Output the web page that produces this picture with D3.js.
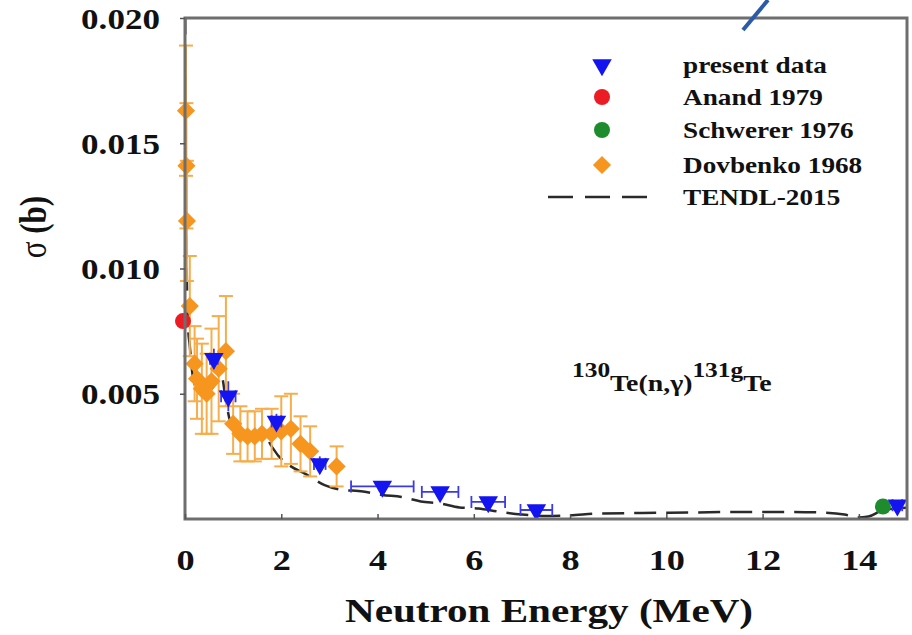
<!DOCTYPE html>
<html>
<head>
<meta charset="utf-8">
<script src="https://cdn.jsdelivr.net/npm/d3@7"></script>
<style>
  body { margin: 0; background: #fff; }
  text { font-family: "Liberation Serif", "Times New Roman", serif; font-weight: bold; fill: #111; }
</style>
</head>
<body>
<div id="svg-container"></div>
<script>
// present data
const presentE = [0.6, 0.9, 1.9, 2.8, 4.1, 5.3, 6.3, 7.3, 14.8];
const presentS = [0.0064, 0.0049, 0.0039, 0.0022, 0.0013, 0.00108, 0.00068, 0.00036, 0.00055];
const presentDE = [0.08, 0.15, 0.1, 0.12, 0.65, 0.38, 0.35, 0.33, 0.1];
const presentDS = [0.0004, 0.0006, 0.0003, 0.0003, 0.0002, 0.0002, 0.0002, 0.0002, 0.0002];

// Anand 1979, Schwerer 1976
const anandE = [0.0], anandS = [0.0079];
const schwererE = [14.5], schwererS = [0.0005];

// Dovbenko 1968
const dovE = [0.02, 0.03, 0.04, 0.1, 0.2, 0.25, 0.35, 0.45, 0.55, 0.7, 0.85, 1.0, 1.15, 1.3, 1.45, 1.6, 1.8, 2.0, 2.2, 2.4, 2.6, 3.15];
const dovS = [0.0163, 0.0141, 0.0119, 0.0085, 0.0062, 0.0056, 0.0052, 0.0050, 0.0055, 0.0060, 0.0067, 0.0038, 0.0034, 0.0033, 0.0033, 0.0034, 0.0034, 0.0035, 0.0036, 0.0030, 0.0027, 0.0021];
const dovDS = [0.0026, 0.0025, 0.0024, 0.0020, 0.0015, 0.0016, 0.0018, 0.0016, 0.0021, 0.0021, 0.0022, 0.0012, 0.0011, 0.0010, 0.0010, 0.0010, 0.0010, 0.0014, 0.0014, 0.0011, 0.0010, 0.0008];

// TENDL-2015
const tendlE = [0.003, 0.01, 0.02, 0.04, 0.06, 0.1, 0.17, 0.25, 0.4, 0.55, 0.68, 0.76, 0.85, 0.95, 1.05, 1.2, 1.35, 1.5, 1.62, 1.8, 1.95, 2.2, 2.5, 2.9, 3.2, 3.7, 4.1, 4.5, 4.9, 5.3, 5.7, 6.1, 6.5, 7.0, 7.5, 8.0, 8.6, 9.5, 10.5, 11.5, 12.5, 13.2, 13.7, 13.95, 14.2, 14.5, 15.0];
const tendlS = [0.0215, 0.0165, 0.0125, 0.0095, 0.0078, 0.0069, 0.0056, 0.0052, 0.0050, 0.0052, 0.0055, 0.0057, 0.0047, 0.0038, 0.0034, 0.0032, 0.0033, 0.0034, 0.0034, 0.0029, 0.0025, 0.0021, 0.0018, 0.00135, 0.00118, 0.0011, 0.00096, 0.00088, 0.0007, 0.00062, 0.00046, 0.00042, 0.0003, 0.00018, 0.00012, 0.00015, 0.00022, 0.00024, 0.00026, 0.00028, 0.00028, 0.00026, 0.00018, 0.00006, 0.0001, 0.00035, 0.00045];

const xTicks = [0, 2, 4, 6, 8, 10, 12, 14];
const yTicks = [0.005, 0.010, 0.015, 0.020];
const legendLabels = ["present data", "Anand 1979", "Schwerer 1976", "Dovbenko 1968", "TENDL-2015"];

const W = 912, H = 635;
const pl = 185, pr = 907, pt = 18, pb = 519;
const sx = 1.21; // the picture is a bit wide

const svg = d3.select("#svg-container")
    .append("svg")
    .attr("width", W)
    .attr("height", H);

const x = d3.scaleLinear().domain([0, 15]).range([pl, pr]);
const y = d3.scaleLinear().domain([0, 0.020]).range([pb, pt]);

svg.append("clipPath").attr("id", "clip")
    .append("rect")
    .attr("x", pl - 12).attr("y", pt).attr("width", pr - pl + 12).attr("height", pb - pt);

const plot = svg.append("g").attr("clip-path", "url(#clip)");

// TENDL curve
const line = d3.line().x(d => x(d[0])).y(d => y(d[1])).curve(d3.curveMonotoneX);
plot.append("path")
    .attr("d", line(d3.zip(tendlE, tendlS)))
    .attr("fill", "none")
    .attr("stroke", "#2a2a2a")
    .attr("stroke-width", 2.5)
    .attr("stroke-dasharray", "22,10");

// Dovbenko error bars
const orangeBar = "#f6ad4c";
dovE.forEach((e, i) => {
    const cx = x(e), y1 = y(dovS[i] + dovDS[i]), y2 = y(dovS[i] - dovDS[i]);
    plot.append("line").attr("x1", cx).attr("x2", cx).attr("y1", y1).attr("y2", y2)
        .attr("stroke", orangeBar).attr("stroke-width", 2);
    [y1, y2].forEach(yy => plot.append("line")
        .attr("x1", cx - 7).attr("x2", cx + 7).attr("y1", yy).attr("y2", yy)
        .attr("stroke", orangeBar).attr("stroke-width", 2));
});

const diamond = d3.symbol().type(d3.symbolSquare).size(165);
dovE.forEach((e, i) => {
    plot.append("path").attr("d", diamond())
        .attr("transform", `translate(${x(e)},${y(dovS[i])}) rotate(45)`)
        .attr("fill", "#f7961e");
});

// Anand, Schwerer
anandE.forEach((e, i) => plot.append("circle")
    .attr("cx", x(e) - 2).attr("cy", y(anandS[i])).attr("r", 8).attr("fill", "#ec1c24"));
schwererE.forEach((e, i) => plot.append("circle")
    .attr("cx", x(e)).attr("cy", y(schwererS[i])).attr("r", 8).attr("fill", "#1e8c2c"));

// present data
const blueBar = "#3a3ae6";
presentE.forEach((e, i) => {
    const cx = x(e), cy = y(presentS[i]);
    const xa = x(e - presentDE[i]), xb = x(e + presentDE[i]);
    const ya = y(presentS[i] + presentDS[i]), yb = y(presentS[i] - presentDS[i]);
    plot.append("line").attr("x1", xa).attr("x2", xb).attr("y1", cy).attr("y2", cy)
        .attr("stroke", blueBar).attr("stroke-width", 1.8);
    [xa, xb].forEach(xx => plot.append("line")
        .attr("x1", xx).attr("x2", xx).attr("y1", cy - 6).attr("y2", cy + 6)
        .attr("stroke", blueBar).attr("stroke-width", 1.8));
    plot.append("line").attr("x1", cx).attr("x2", cx).attr("y1", ya).attr("y2", yb)
        .attr("stroke", blueBar).attr("stroke-width", 1.8);
});
const tri = d3.symbol().type(d3.symbolTriangle).size(165);
presentE.forEach((e, i) => {
    plot.append("path").attr("d", tri())
        .attr("transform", `translate(${x(e)},${y(presentS[i])}) rotate(180)`)
        .attr("fill", "#1414f0");
});

// frame
svg.append("rect")
    .attr("x", pl).attr("y", pt)
    .attr("width", pr - pl).attr("height", pb - pt)
    .attr("fill", "none").attr("stroke", "#6e6e6e").attr("stroke-width", 3);

// axes
const yAxis = svg.append("g")
    .attr("transform", `translate(${pl},0)`)
    .call(d3.axisLeft(y).tickValues(yTicks).tickFormat(d3.format(".3f")).tickSize(5).tickPadding(0));
yAxis.select(".domain").remove();
yAxis.selectAll("line").attr("stroke", "#555").attr("stroke-width", 1.5);
yAxis.selectAll("text")
    .attr("x", null).attr("dy", null)
    .attr("transform", `translate(-25,10) scale(${sx},1)`)
    .style("font-size", "29px").style("font-family", "Liberation Serif").style("font-weight", "bold").attr("fill", "#111");

const xAxis = svg.append("g")
    .attr("transform", `translate(0,${pb})`)
    .call(d3.axisBottom(x).tickValues(xTicks).tickSize(-5).tickPadding(0));
xAxis.select(".domain").remove();
xAxis.selectAll("line").attr("stroke", "#555").attr("stroke-width", 1.5);
xAxis.selectAll("text")
    .attr("y", null).attr("dy", null)
    .attr("transform", `translate(0,51) scale(${sx},1)`)
    .style("font-size", "30px").style("font-family", "Liberation Serif").style("font-weight", "bold").attr("fill", "#111");

// axis titles
svg.append("text")
    .attr("transform", `translate(549,622) scale(${sx},1)`)
    .attr("text-anchor", "middle")
    .style("font-size", "34px")
    .text("Neutron Energy (MeV)");

const yt = svg.append("text")
    .attr("transform", `translate(46,227) rotate(-90) scale(1,${sx})`)
    .attr("text-anchor", "middle")
    .style("font-size", "31px");
yt.append("tspan").style("font-weight", "normal").text("σ");
yt.append("tspan").text(" (b)");

// legend
const legX = 602, legY = [65, 97, 130, 165, 197];
svg.append("path").attr("d", tri()).attr("transform", `translate(${legX},${legY[0]}) rotate(180)`).attr("fill", "#1414f0");
svg.append("circle").attr("cx", legX).attr("cy", legY[1]).attr("r", 8).attr("fill", "#ec1c24");
svg.append("circle").attr("cx", legX).attr("cy", legY[2]).attr("r", 8).attr("fill", "#1e8c2c");
svg.append("path").attr("d", diamond()).attr("transform", `translate(${legX},${legY[3]}) rotate(45)`).attr("fill", "#f7961e");
svg.append("line").attr("x1", 548).attr("x2", 648).attr("y1", legY[4]).attr("y2", legY[4])
    .attr("stroke", "#2a2a2a").attr("stroke-width", 2.5).attr("stroke-dasharray", "25,12");
legendLabels.forEach((t, i) => {
    svg.append("text")
        .attr("transform", `translate(683,${legY[i] + 8}) scale(${sx},1)`)
        .style("font-size", "22.5px")
        .text(t);
});

// reaction label
const rl = svg.append("text")
    .attr("transform", `translate(572,391) scale(${sx},1)`)
    .style("font-size", "23px");
rl.append("tspan").attr("dy", -14).style("font-size", "21px").text("130");
rl.append("tspan").attr("dy", 14).text("Te(n,γ)");
rl.append("tspan").attr("dy", -14).style("font-size", "21px").text("131g");
rl.append("tspan").attr("dy", 14).text("Te");

// stray stroke at the top of the picture
svg.append("line").attr("x1", 768).attr("y1", 0).attr("x2", 743).attr("y2", 30)
    .attr("stroke", "#2b5ba8").attr("stroke-width", 4);
</script>
</body>
</html>
